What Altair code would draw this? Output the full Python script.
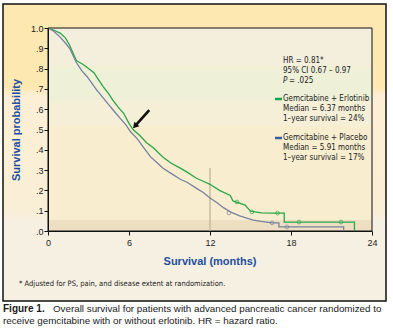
import altair as alt
import pandas as pd

# ---------------- data ----------------
green_t = [0, 0.4, 0.9, 1.3, 1.6, 1.9, 2.1, 2.6, 3.0, 3.4, 3.8, 4.1, 4.5, 4.8, 5.2, 5.6,
           6.0, 6.3, 6.8, 7.3, 7.8, 8.5, 9.1, 9.8, 10.3, 11.0, 11.5, 12.0, 12.7, 13.5,
           13.7, 14.6, 15.0, 15.8, 16.5, 17.5, 17.5, 22.7, 22.7]
green_s = [1.0, 0.99, 0.975, 0.95, 0.915, 0.87, 0.84, 0.82, 0.80, 0.78, 0.74, 0.71, 0.675,
           0.645, 0.61, 0.58, 0.53, 0.50, 0.47, 0.435, 0.41, 0.365, 0.335, 0.31, 0.29, 0.26,
           0.245, 0.23, 0.2, 0.175, 0.148, 0.128, 0.098, 0.089, 0.088, 0.088, 0.044, 0.044, 0.0]
gray_t = [0, 0.4, 0.9, 1.3, 1.6, 2.1, 2.5, 2.9, 3.6, 4.4, 4.9, 5.35, 5.8, 6.1, 6.6, 7.1,
          7.6, 8.1, 8.5, 9.2, 9.8, 10.3, 11.0, 11.5, 12.0, 12.5, 13.0, 13.5, 14.2, 15.2,
          15.8, 16.6, 17.1, 17.1, 21.9, 21.9]
gray_s = [1.0, 0.985, 0.955, 0.925, 0.9, 0.83, 0.79, 0.76, 0.695, 0.63, 0.59, 0.555, 0.52,
          0.49, 0.455, 0.41, 0.365, 0.335, 0.31, 0.28, 0.255, 0.24, 0.21, 0.19, 0.163, 0.14,
          0.115, 0.094, 0.075, 0.054, 0.047, 0.04, 0.04, 0.02, 0.02, 0.0]
green_cens_t = [14.0, 15.1, 17.0, 18.6, 21.7]
green_cens_s = [0.143, 0.094, 0.088, 0.044, 0.044]
gray_cens_t = [13.4, 16.6, 17.7]
gray_cens_s = [0.089, 0.04, 0.02]

x_ticks = [0, 6, 12, 18, 24]
y_ticks = [0, 0.1, 0.2, 0.3, 0.4, 0.5, 0.6, 0.7, 0.8, 0.9, 1.0]

band_lo = [0.0, 0.055, 0.52, 0.645, 0.81]
band_hi = [0.055, 0.52, 0.645, 0.81, 1.0]
band_colors = ["#eedfc3", "#f8eecf", "#f5efd8", "#eef0d8", "#f4eedc"]

marker_12_top = 0.31
arrow_tail = (7.5, 0.596)
arrow_head = (6.44, 0.517)

stats_lines = ["HR = 0.81*", "95% CI 0.67 \u2013 0.97", "= .025"]
erl_lines = ["Gemcitabine + Erlotinib", "Median = 6.37 months", "1\u2013year survival = 24%"]
pla_lines = ["Gemcitabine + Placebo", "Median = 5.91 months", "1\u2013year survival = 17%"]
footnote = "* Adjusted for PS, pain, and disease extent at randomization."
cap_bold = "Figure 1."
cap_line1 = "Overall survival for patients with advanced pancreatic cancer randomized to"
cap_line2 = "receive gemcitabine with or without erlotinib. HR = hazard ratio."

# ---------------- layout ----------------
W, H = 324, 203
PL, PT = 48, 28


def px(x):
    return x - PL


def py(y):
    return y - PT


GREEN = "#2aa649"
GRAY = "#76829e"
BLUE_T = "#1e4e9e"
NARROW = "Liberation Sans Narrow, DejaVu Sans Condensed, sans-serif"

xs = alt.Scale(domain=[0, 24], nice=False, zero=False)
ys = alt.Scale(domain=[0, 1], nice=False)

xaxis = alt.Axis(values=x_ticks, title=None, grid=False, tickSize=4, labelFontSize=9,
                 labelPadding=3, labelFont="Liberation Sans", labelColor="#222",
                 domainColor="#111", tickColor="#111", labelFlush=False, zindex=2)
yaxis = alt.Axis(values=y_ticks, title=None, grid=False, tickSize=4, labelFontSize=9,
                 labelPadding=1, labelFont="Liberation Sans", labelColor="#222",
                 domainColor="#111", tickColor="#111", labelFlush=False, zindex=2,
                 labelExpr="datum.value == 1 ? '1.0' : '.' + format(datum.value * 10, '.0f')")

one = pd.DataFrame({"a": [0]})

box = alt.Chart(one).mark_rect(
    stroke="#111", strokeWidth=1.5,
    fill=alt.LinearGradient(
        gradient="linear", x1=0, x2=0, y1=0, y2=1,
        stops=[alt.GradientStop(offset=0, color="#fde8b2"),
               alt.GradientStop(offset=0.28, color="#fde8b2"),
               alt.GradientStop(offset=0.31, color="#fdefd5"),
               alt.GradientStop(offset=0.70, color="#f9efd6"),
               alt.GradientStop(offset=0.73, color="#f6f0e3"),
               alt.GradientStop(offset=1, color="#f6f0e3")])
).encode(x=alt.value(px(3)), x2=alt.value(px(386)), y=alt.value(py(4)), y2=alt.value(py(301)))

bands_df = pd.DataFrame({"lo": band_lo, "hi": band_hi, "c": band_colors})
bands = alt.Chart(bands_df).mark_rect().encode(
    x=alt.datum(0, scale=xs, axis=xaxis), x2=alt.datum(24),
    y=alt.Y("lo:Q", scale=ys, axis=yaxis), y2="hi:Q",
    color=alt.Color("c:N", scale=None))

frame = alt.Chart(one).mark_rect(fill=None, stroke="#111", strokeWidth=1).encode(
    x=alt.datum(0, scale=xs, axis=xaxis), x2=alt.datum(24),
    y=alt.datum(0, scale=ys, axis=yaxis), y2=alt.datum(1))

vline = alt.Chart(one).mark_rule(color="#bcb096", strokeWidth=1.2).encode(
    x=alt.datum(12, scale=xs, axis=xaxis), y=alt.datum(0, scale=ys, axis=yaxis),
    y2=alt.datum(marker_12_top))

curves_df = pd.concat([
    pd.DataFrame({"t": green_t, "s": green_s, "g": "Erlotinib", "i": range(len(green_t))}),
    pd.DataFrame({"t": gray_t, "s": gray_s, "g": "Placebo", "i": range(len(gray_t))}),
])
color_scale = alt.Scale(domain=["Erlotinib", "Placebo"], range=[GREEN, GRAY])

curves = alt.Chart(curves_df).mark_line(strokeWidth=1.3).encode(
    x=alt.X("t:Q", scale=xs, axis=xaxis),
    y=alt.Y("s:Q", scale=ys, axis=yaxis),
    color=alt.Color("g:N", scale=color_scale, legend=None),
    order="i:Q")

cens_df = pd.concat([
    pd.DataFrame({"t": green_cens_t, "s": green_cens_s, "g": "Erlotinib"}),
    pd.DataFrame({"t": gray_cens_t, "s": gray_cens_s, "g": "Placebo"}),
])
cens = alt.Chart(cens_df).mark_point(shape="circle", filled=False, size=14, strokeWidth=1).encode(
    x=alt.X("t:Q", scale=xs, axis=xaxis), y=alt.Y("s:Q", scale=ys, axis=yaxis),
    color=alt.Color("g:N", scale=color_scale, legend=None))

arrow_df = pd.DataFrame({"x": [arrow_tail[0]], "y": [arrow_tail[1]],
                         "x2": [arrow_head[0]], "y2": [arrow_head[1]]})
arrow_line = alt.Chart(arrow_df).mark_rule(color="#111", strokeWidth=2.6).encode(
    x=alt.X("x:Q", scale=xs, axis=xaxis), y=alt.Y("y:Q", scale=ys, axis=yaxis),
    x2="x2:Q", y2="y2:Q")
arrow_tip = alt.Chart(arrow_df).mark_point(shape="triangle-up", filled=True, size=45,
                                           color="#111", angle=222, opacity=1).encode(
    x=alt.X("x2:Q", scale=xs, axis=xaxis), y=alt.Y("y2:Q", scale=ys, axis=yaxis))


def txt(text, x, y, size=8, font=NARROW, weight="normal", color="#222", align="left",
        angle=0, style="normal"):
    return alt.Chart(one).mark_text(
        text=text, fontSize=size, font=font, fontWeight=weight, color=color, align=align,
        baseline="middle", angle=angle, fontStyle=style
    ).encode(x=alt.value(px(x)), y=alt.value(py(y)))


layers = [box, bands, frame, vline, curves, cens, arrow_line, arrow_tip]

LX = 283
for k, line in enumerate(stats_lines[:2]):
    layers.append(txt(line, LX, 61 + 10 * k))
layers.append(txt("P", LX, 81, style="italic"))
layers.append(txt(stats_lines[2], LX + 6, 81))
for k, line in enumerate(erl_lines):
    layers.append(txt(line, LX, 99 + 10 * k))
for k, line in enumerate(pla_lines):
    layers.append(txt(line, LX, 138 + 10 * k))

sw_green = alt.Chart(one).mark_rule(color="#13a54e", strokeWidth=2.5).encode(
    x=alt.value(px(275)), x2=alt.value(px(282)), y=alt.value(py(99)))
sw_blue = alt.Chart(one).mark_rule(color="#3b5aa2", strokeWidth=2.5).encode(
    x=alt.value(px(275)), x2=alt.value(px(282)), y=alt.value(py(138)))
layers += [sw_green, sw_blue]

layers.append(txt("Survival (months)", 210, 262, size=11, font="Liberation Sans",
                  weight="bold", color=BLUE_T, align="center"))
layers.append(txt("Survival probability", 17, 130, size=11, font="Liberation Sans",
                  weight="bold", color=BLUE_T, align="center", angle=270))
layers.append(txt(footnote, 19, 284, size=7.5))
layers.append(txt(cap_bold, 3, 309, size=10, font="Liberation Sans", weight="bold",
                  color="#1a1a1a"))
layers.append(txt(cap_line1, 53, 309, size=9.8, font="Liberation Sans", color="#1a1a1a"))
layers.append(txt(cap_line2, 3, 321, size=9.8, font="Liberation Sans", color="#1a1a1a"))

chart = alt.layer(*layers).properties(
    width=W, height=H,
    autosize=alt.AutoSizeParams(type="none"),
    padding={"left": PL, "top": PT, "right": 393 - PL - W, "bottom": 334 - PT - H},
).configure(background="white").configure_view(stroke=None)

chart.save("out.html", embed_options={"renderer": "svg", "actions": False})
